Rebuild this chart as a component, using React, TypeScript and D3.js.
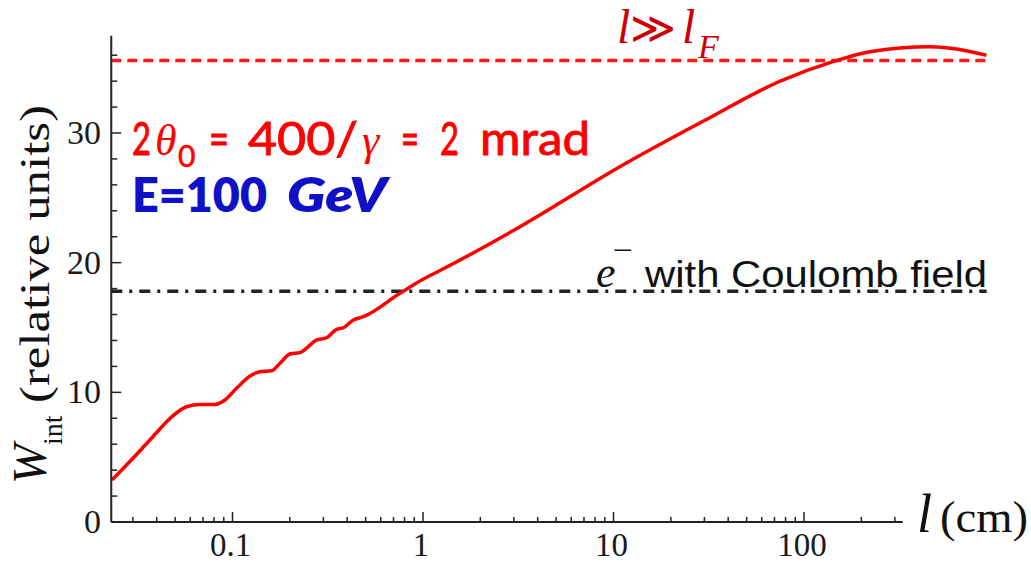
import React from "react";
import * as d3 from "d3";

// ---- data ----
const lengthCm = [
  0.0233, 0.0327, 0.04, 0.0451, 0.0574, 0.0674, 0.0809, 0.0913, 0.105, 0.1236, 0.139, 0.1605,
  0.1775, 0.2, 0.226, 0.277, 0.312, 0.352, 0.382, 0.431, 0.486, 0.757, 1.0,
  1.243, 3.23, 10.8, 29.5, 75, 142, 222, 458, 907,
];
const wInt = [
  3.24, 5.5, 6.9, 7.74, 8.89, 9.07, 9.07, 9.41, 10.31, 11.26, 11.59, 11.67,
  12.24, 12.96, 13.06, 14.04, 14.21, 14.86, 14.98, 15.58, 15.83, 17.64, 18.72,
  19.43, 22.77, 27.4, 30.9, 34.0, 35.5, 36.27, 36.66, 36.0,
];
const limitLevel = 35.6; // l >> l_F
const coulombLevel = 17.8; // e- with Coulomb field
const xDomainMin = 0.0231;
const xAxisMax = 330;
const xLineMax = 910;
const yAxisMax = 37.5;
const xMajorTicks = [0.1, 1, 10, 100];
const xTickLabels = ["0.1", "1", "10", "100"];
const yMajorTicks = [0, 10, 20, 30];
const yTickLabels = ["0", "10", "20", "30"];
const yMinorStep = 2;

const SERIF = "'Liberation Serif', 'Times New Roman', serif";
const SANS = "'Liberation Sans', Arial, sans-serif";
const COMIC = "Lato, 'Open Sans', sans-serif";

function Fit(props: any) {
  const { x, y, w, children, ...rest } = props;
  return (
    <text x={x} y={y} textLength={w} lengthAdjust="spacingAndGlyphs" {...rest}>
      {children}
    </text>
  );
}

export default function App() {
  const W = 1031;
  const H = 564;
  const x = d3.scaleLog().domain([0.1, 100]).range([232.5, 804]);
  const y = d3.scaleLinear().domain([0, 30]).range([522, 133]);

  const xTicksAll = d3
    .scaleLog()
    .domain([xDomainMin, xAxisMax])
    .ticks()
    .filter((t) => t >= xDomainMin && t <= xAxisMax);
  const isMajorX = (t: number) => Math.abs(Math.log10(t) - Math.round(Math.log10(t))) < 1e-9;

  const yMinor = d3.range(0, yAxisMax, yMinorStep);

  const pts: [number, number][] = lengthCm.map((l, i) => [x(l), y(wInt[i])]);
  const linePath = d3.line().curve(d3.curveMonotoneX)(pts) || "";

  const x0 = x(xDomainMin);
  const y0 = y(0);
  const red = "#ff0000";
  const comicRed = { fontFamily: COMIC, fontSize: 46, fill: red, stroke: red, strokeWidth: 0.9 };
  const comicBlue = { fontFamily: COMIC, fontSize: 48, fontWeight: 800, fill: "#1010c8" };

  return (
    <svg
      width={W}
      height={H}
      viewBox={`0 0 ${W} ${H}`}
      style={{ position: "absolute", left: 0, top: 0, background: "#fff" }}
    >
      <rect x={0} y={0} width={W} height={H} fill="#fff" />

      {/* reference lines */}
      <line
        x1={x(xDomainMin)}
        x2={x(xLineMax) + 3}
        y1={y(limitLevel)}
        y2={y(limitLevel)}
        stroke="#ff1a1a"
        strokeWidth={3.5}
        strokeDasharray="10 6"
      />
      <line
        x1={x(xDomainMin)}
        x2={x(xLineMax)}
        y1={y(coulombLevel)}
        y2={y(coulombLevel)}
        stroke="#222"
        strokeWidth={3.5}
        strokeDasharray="11 7 3 7"
      />

      {/* curve */}
      <path d={linePath} fill="none" stroke={red} strokeWidth={3.5} strokeLinejoin="round" />

      {/* axes */}
      <line x1={x0} x2={x(xAxisMax)} y1={y0} y2={y0} stroke="#222" strokeWidth={2} />
      <line x1={x0} x2={x0} y1={y0} y2={y(yAxisMax)} stroke="#222" strokeWidth={2} />
      {xTicksAll.map((t, i) => (
        <line
          key={"xt" + i}
          x1={x(t)}
          x2={x(t)}
          y1={y0}
          y2={y0 - (isMajorX(t) ? 10 : 5)}
          stroke="#222"
          strokeWidth={1.5}
        />
      ))}
      {yMinor.map((v, i) => (
        <line
          key={"yt" + i}
          x1={x0}
          x2={x0 + (v % 10 === 0 ? 10 : 6)}
          y1={y(v)}
          y2={y(v)}
          stroke="#222"
          strokeWidth={1.5}
        />
      ))}
      {xMajorTicks.map((t, i) => (
        <text
          key={"xl" + i}
          x={x(t) - 2}
          y={556}
          textAnchor="middle"
          fontFamily={SERIF}
          fontSize={33}
          fill="#1a1a1a"
        >
          {xTickLabels[i]}
        </text>
      ))}
      {yMajorTicks.map((v, i) => (
        <text
          key={"yl" + i}
          x={101}
          y={y(v) + 11}
          textAnchor="end"
          fontFamily={SERIF}
          fontSize={34}
          fill="#1a1a1a"
        >
          {yTickLabels[i]}
        </text>
      ))}

      {/* y axis label */}
      <g transform="translate(46,484) rotate(-90)">
        <text x={0} y={0} fontFamily={SERIF} fontSize={48} fontStyle="italic" fill="#111">
          W
        </text>
      </g>
      <g transform="translate(62,445) rotate(-90)">
        <text x={0} y={0} fontFamily={SERIF} fontSize={28} fill="#111">
          int
        </text>
      </g>
      <g transform="translate(49,403) rotate(-90)">
        <text
          x={0}
          y={0}
          fontFamily={SERIF}
          fontSize={42}
          fill="#111"
          textLength={298}
          lengthAdjust="spacingAndGlyphs"
        >
          (relative units)
        </text>
      </g>

      {/* x axis label */}
      <text x={917} y={532} fontFamily={SERIF} fontSize={54} fontStyle="italic" fill="#111">
        l
      </text>
      <Fit x={940} y={532} w={88} fontFamily={SERIF} fontSize={44} fill="#111">
        (cm)
      </Fit>

      {/* annotations: line 1 */}
      <Fit x={132} y={155} w={19} {...comicRed}>2</Fit>
      <text x={155} y={155} fontFamily={SERIF} fontStyle="italic" fontSize={44} fill={red}>θ</text>
      <text x={178} y={167} fontFamily={COMIC} fontSize={30} fill={red} stroke={red} strokeWidth={0.6}>0</text>
      <Fit x={209} y={155} w={20} {...comicRed}>=</Fit>
      <Fit x={248} y={155} w={110} {...comicRed}>400/</Fit>
      <text x={362} y={155} fontFamily={SERIF} fontStyle="italic" fontSize={44} fill={red}>γ</text>
      <Fit x={401} y={155} w={18} {...comicRed}>=</Fit>
      <Fit x={440} y={155} w={19} {...comicRed}>2</Fit>
      <Fit x={480} y={155} w={110} {...comicRed}>mrad</Fit>

      {/* annotations: line 2 */}
      <Fit x={132} y={212} w={135} {...comicBlue}>E=100</Fit>
      <Fit x={287} y={212} w={100} {...comicBlue} fontStyle="italic">GeV</Fit>

      <text fill="#cc0000" fontFamily={SERIF} fontStyle="italic" y={43}>
        <tspan x={617} fontSize={48}>l</tspan>
        <tspan x={630} fontSize={44} fontStyle="normal">≫</tspan>
        <tspan x={682} fontSize={48}>l</tspan>
        <tspan x={698} y={58} fontSize={34}>F</tspan>
      </text>

      <text x={596} y={287} fontFamily={SERIF} fontStyle="italic" fontSize={44} fill="#111">e</text>
      <Fit x={613} y={260} w={20} fontFamily={SERIF} fontSize={30} fill="#111">−</Fit>
      <Fit x={645} y={287} w={342} fontFamily={SANS} fontSize={37} fill="#111">
        with Coulomb field
      </Fit>
    </svg>
  );
}
